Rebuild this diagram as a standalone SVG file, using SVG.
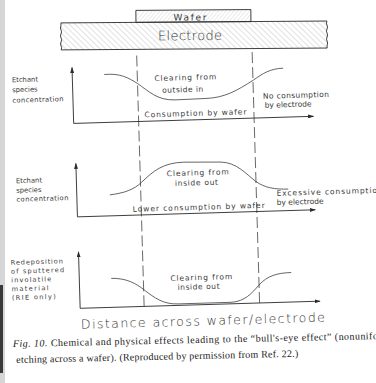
<svg xmlns="http://www.w3.org/2000/svg" width="376" height="383" viewBox="0 0 376 383">
<defs>
<style>
.ax{fill:none;stroke:#2b2b2b;stroke-width:0.9;marker-start:url(#ah);marker-end:url(#ah)}
.cv{fill:none;stroke:#333;stroke-width:0.75}
.dv{fill:none;stroke:#444;stroke-width:0.8;stroke-dasharray:11 4}
.t{font-family:"DejaVu Sans",sans-serif;font-size:7.5px;fill:#3a3a3a}
.lb{font-family:"DejaVu Sans",sans-serif;font-size:6.8px;fill:#3a3a3a}
.lc{font-family:"DejaVu Sans",sans-serif;font-size:6.6px;fill:#3a3a3a}
.wf{font-family:"DejaVu Sans",sans-serif;font-size:9px;fill:#3a3a3a}
.el{font-family:"DejaVu Sans",sans-serif;font-size:13px;font-weight:200;fill:#2f2f2f}
.ttl{font-family:"DejaVu Sans",sans-serif;font-size:12.5px;font-weight:200;fill:#2f2f2f}
.mid{text-anchor:middle}
.cap{font-family:"Liberation Serif",serif;font-size:10px;fill:#222}
</style>
<marker id="ah" viewBox="0 0 6 4" refX="5.5" refY="2" markerWidth="6" markerHeight="4" orient="auto-start-reverse" markerUnits="userSpaceOnUse"><path d="M0,0 L6,2 L0,4 z" fill="#2b2b2b"/></marker>
<pattern id="hE" width="4" height="4" patternUnits="userSpaceOnUse" patternTransform="rotate(-45)"><line x1="0" y1="0" x2="0" y2="4" stroke="#9a9a9a" stroke-width="0.6"/></pattern>
<pattern id="hW" width="3" height="3" patternUnits="userSpaceOnUse" patternTransform="rotate(40)"><line x1="0" y1="0" x2="0" y2="3" stroke="#aaa" stroke-width="0.5"/></pattern>
</defs>
<rect width="376" height="383" fill="#fff"/>
<rect x="0" y="0" width="5" height="383" fill="#d6d6d6"/>
<rect x="0" y="285" width="3" height="88" fill="#3a3a3a"/>

<g transform="rotate(-0.4 190 30)">
<g id="wafer">
<rect x="136" y="10" width="115" height="12" fill="url(#hW)" stroke="#2b2b2b" stroke-width="0.9"/>
<text class="wf mid" x="190" y="20.5" textLength="33">Wafer</text>
</g>
<g id="electrode">
<path d="M61,22 L327,22 c-2,3 2,5 0,8 c-2,3 2,5 0,8 c-2,3 2,5 0,8 l0,3 L61,49 c2,-3 -2,-5 0,-8 c2,-3 -2,-5 0,-8 c2,-3 -2,-5 0,-8 z" fill="url(#hE)" stroke="#2b2b2b" stroke-width="0.9"/>
<text class="el mid" x="190" y="40" textLength="64">Electrode</text>
</g>
</g>

<g transform="rotate(-1.7 190 200)">
<g id="connectors">
<path class="dv" d="M141,54 L141,305"/>
<path class="dv" d="M256.5,54 L256.5,305"/>
</g>

<g id="panel1">
<path class="ax" d="M76,64 L76,120 L316,120"/>
<path class="cv" d="M108,72 C124,71 132,76 141,82 C152,90 160,99.5 178,99.5 L208,99 C228,99 240,92 257,82 C266,76 274,71 287,71"/>
<text class="t mid" x="189" y="80" textLength="62">Clearing from</text>
<text class="t mid" x="186" y="92" textLength="41">outside in</text>
<text class="t mid" x="198" y="116" textLength="102">Consumption by wafer</text>
<text class="t" x="266" y="101" textLength="66">No consumption</text>
<text class="t" x="267.5" y="110">by electrode</text>
<text class="lb" x="15.5" y="77">Etchant</text>
<text class="lb" x="15.5" y="87">species</text>
<text class="lb" x="15.5" y="97.5" textLength="51">concentration</text>
</g>

<g id="panel2">
<path class="ax" d="M77,160 L77,213.5 L315,213.5"/>
<path class="cv" d="M110,192.5 C125,191 134,188 142,181 C154,170 164,162 185,162 L222,163 C238,164 246,175 256.5,183.5 C265,190 275,192 288.5,192"/>
<text class="t mid" x="198.5" y="175.5" textLength="62">Clearing from</text>
<text class="t mid" x="197" y="185.5" textLength="43">inside out</text>
<text class="t mid" x="198.5" y="210" textLength="132">Lower consumption by wafer</text>
<text class="t" x="276.8" y="198.4" textLength="106">Excessive consumption</text>
<text class="t" x="276.6" y="207.6">by electrode</text>
<text class="lb" x="16.5" y="178">Etchant</text>
<text class="lb" x="16.5" y="187.5">species</text>
<text class="lb" x="16.5" y="196.5" textLength="52">concentration</text>
</g>

<g id="panel3">
<path class="ax" d="M77,248.5 L77,305 L317,305"/>
<path class="cv" d="M109,276 C124,276 134,282 141.5,288.5 C152,297 160,303.5 175,303.5 L228,303.5 C242,303 249,295 256.5,287 C265,278 275,275.5 289,275.5"/>
<text class="t mid" x="199" y="280.3" textLength="62">Clearing from</text>
<text class="t mid" x="196" y="289.5" textLength="42">inside out</text>
<text class="lc" x="9" y="259.5" textLength="52">Redeposition</text>
<text class="lc" x="9" y="268.3" textLength="53">of sputtered</text>
<text class="lc" x="9" y="277.1" textLength="40">involatile</text>
<text class="lc" x="9" y="285.9" textLength="37">material</text>
<text class="lc" x="9" y="294.7" textLength="44">(RIE only)</text>
</g>

<g id="axis-title">
<text class="ttl mid" x="199.3" y="325.5" textLength="244">Distance across wafer/electrode</text>
</g>
</g>

<g id="caption" transform="rotate(-1.25 13 347)">
<text class="cap" x="13" y="347" textLength="377"><tspan font-style="italic">Fig. 10.</tspan> Chemical and physical effects leading to the “bull's-eye effect” (nonuniform</text>
<text class="cap" x="16" y="363" textLength="282">etching across a wafer). (Reproduced by permission from Ref. 22.)</text>
</g>
</svg>
